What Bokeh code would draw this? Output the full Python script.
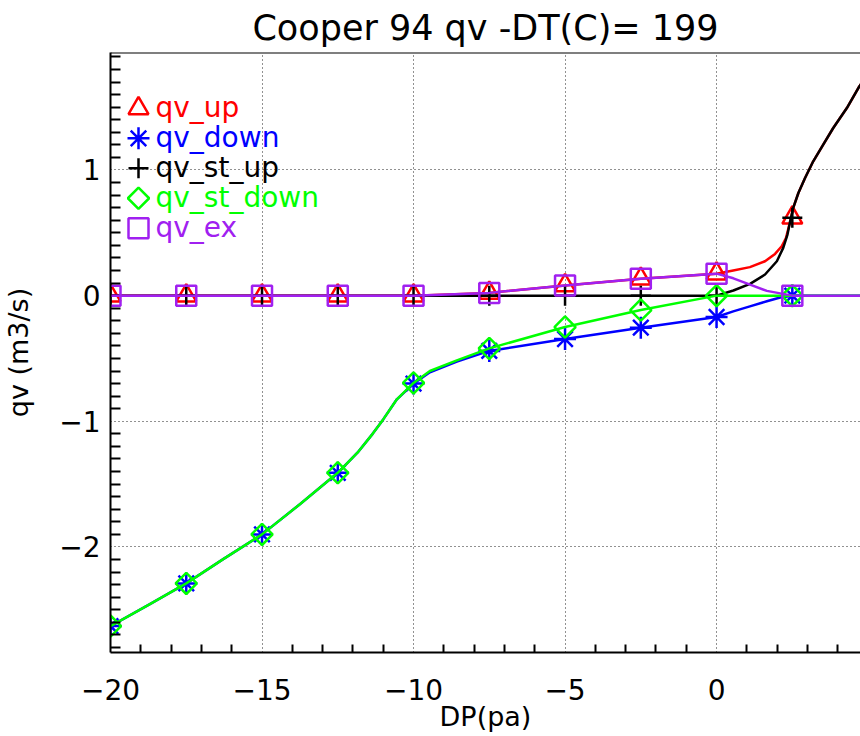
import numpy as np
from bokeh.plotting import figure
from bokeh.models import FixedTicker, Span, ColumnDataSource
from bokeh.core.properties import value
from bokeh.embed import file_html
from bokeh.resources import INLINE

# ---- sampled flow rates at the marker pressures ----
dp = [-20, -17.5, -15, -12.5, -10, -7.5, -5, -2.5, 0, 2.5]
qv_up = [0, 0, 0, 0, 0, 0.022, 0.081, 0.134, 0.175, 0.62]
qv_down = [-2.63, -2.29, -1.90, -1.41, -0.70, -0.44, -0.345, -0.255, -0.17, 0.0]
qv_st_up = [0, 0, 0, 0, 0, 0, 0, 0, 0, 0.62]
qv_st_down = [-2.63, -2.29, -1.90, -1.41, -0.695, -0.42, -0.25, -0.115, 0.0, 0.0]
qv_ex = [0, 0, 0, 0, 0, 0.022, 0.081, 0.134, 0.175, 0.0]

# ---- continuous curves (finer pressure steps) ----
curve_up_dp = [-20, -17.5, -15, -12.5, -10, -7.5, -5, -2.5, 0, 0.55, 1.1, 1.6, 1.93, 2.15, 2.29,
               2.43, 2.53, 2.7, 2.92, 3.19, 3.52, 3.85, 4.3, 4.71, 5.0]
curve_up_qv = [0, 0, 0, 0, 0, 0.022, 0.081, 0.134, 0.175, 0.200, 0.227, 0.274, 0.332, 0.393, 0.459,
               0.592, 0.698, 0.817, 0.936, 1.069, 1.202, 1.334, 1.493, 1.665, 1.76]

curve_down_dp = [-20, -18.7, -17.5, -16.28, -15, -13.75, -12.5, -11.85, -11.35, -11.0, -10.55, -10,
                 -9.46, -8.57, -7.5, -5, -2.5, 0, 0.55, 1.1, 1.66, 2.1, 2.5, 5.0]
curve_down_qv = [-2.63, -2.455, -2.29, -2.097, -1.90, -1.66, -1.41, -1.25, -1.10, -0.985, -0.825, -0.70,
                 -0.61, -0.525, -0.44, -0.345, -0.255, -0.17, -0.125, -0.085, -0.045, -0.015, 0.0, 0.0]

curve_st_up_dp = [-20, -17.5, -15, -12.5, -10, -7.5, -5, -2.5, 0, 0.555, 1.105, 1.6, 1.99, 2.2, 2.34,
                  2.43, 2.53, 2.7, 2.92, 3.19, 3.52, 3.85, 4.3, 4.71, 5.0]
curve_st_up_qv = [0, 0, 0, 0, 0, 0, 0, 0, 0, 0.041, 0.094, 0.168, 0.274, 0.380, 0.486,
                  0.592, 0.698, 0.817, 0.936, 1.069, 1.202, 1.334, 1.493, 1.665, 1.76]

curve_st_down_dp = [-20, -18.7, -17.5, -16.28, -15, -13.75, -12.5, -11.85, -11.35, -11.0, -10.55, -10,
                    -9.46, -8.57, -7.5, -5, -2.5, 0, 2.5, 5.0]
curve_st_down_qv = [-2.63, -2.455, -2.29, -2.097, -1.90, -1.66, -1.41, -1.25, -1.10, -0.985, -0.825, -0.695,
                    -0.60, -0.515, -0.42, -0.25, -0.115, 0.0, 0.0, 0.0]

curve_ex_dp = [-20, -17.5, -15, -12.5, -10, -7.5, -5, -2.5, 0, 0.555, 1.105, 1.66, 2.5, 5.0]
curve_ex_qv = [0, 0, 0, 0, 0, 0.022, 0.081, 0.134, 0.175, 0.138, 0.088, 0.038, 0.0, 0.0]

names = ["qv_up", "qv_down", "qv_st_up", "qv_st_down", "qv_ex"]
colors = ["#FF0000", "#0000FF", "#000000", "#00FF00", "#A020F0"]

x_major = [-20, -15, -10, -5, 0]
x_labels = ["\u221220", "\u221215", "\u221210", "\u22125", "0"]
y_major = [-2, -1, 0, 1]
y_labels = ["\u22122", "\u22121", "0", "1"]

TITLE = "Cooper 94 qv -DT(C)= 199"
FONT = "DejaVu Sans"
W, H = 860, 736
BL, BR, BT, BB = 110, 0, 51, 84
X0, X1 = -20.0, 4.75
Y0, Y1 = -2.84, 1.935
LW = 2.5

p = figure(width=W, height=H, x_range=(X0, X1), y_range=(Y0, Y1),
           output_backend="svg", toolbar_location=None,
           min_border_left=BL, min_border_right=BR, min_border_top=BT, min_border_bottom=BB,
           title=TITLE)
p.outline_line_color = None
p.background_fill_color = "white"
p.border_fill_color = "white"

p.title.align = "center"
p.title.text_font = FONT
p.title.text_font_size = "35px"
p.title.text_font_style = "normal"
p.title.text_color = "black"
p.title.standoff = 10

fw, fh = W - BL - BR, H - BT - BB
ux, uy = (X1 - X0) / fw, (Y1 - Y0) / fh

# axes: dotted grid at the major values, short inward minor ticks
x_minor = [v for v in range(-20, 5) if v not in x_major]
y_minor = [round(v, 1) for v in np.arange(-2.8, 1.95, 0.1) if abs(v - round(v)) > 1e-6]
p.xaxis.ticker = FixedTicker(ticks=x_major, minor_ticks=x_minor)
p.yaxis.ticker = FixedTicker(ticks=y_major, minor_ticks=y_minor)
p.xaxis.major_label_overrides = dict(zip(x_major, x_labels))
p.yaxis.major_label_overrides = dict(zip(y_major, y_labels))

for ax, tick_in in ((p.xaxis, 8), (p.yaxis, 10)):
    ax.axis_line_width = 2
    ax.axis_line_color = "black"
    ax.major_tick_in = 0
    ax.major_tick_out = 0
    ax.minor_tick_in = tick_in
    ax.minor_tick_out = 0
    ax.minor_tick_line_width = 2
    ax.minor_tick_line_color = "black"
    ax.major_label_text_font = FONT
    ax.major_label_text_font_size = "28px"
    ax.major_label_text_color = "black"
    ax.axis_label_text_font = FONT
    ax.axis_label_text_font_size = "27px"
    ax.axis_label_text_font_style = "normal"
    ax.axis_label_text_color = "black"

p.xaxis.axis_label = "DP(pa)"
p.yaxis.axis_label = "qv (m3/s)"
p.xaxis.major_label_standoff = 26
p.xaxis.axis_label_standoff = -2
p.yaxis.major_label_standoff = 10
p.yaxis.axis_label_standoff = 22

for g in (p.xgrid, p.ygrid):
    g.grid_line_color = "#222222"
    g.grid_line_dash = "1 3"
    g.grid_line_width = 1

p.add_layout(Span(location=Y1, dimension="width", line_color="black", line_width=2))

# series
curves = [
    (curve_up_dp, curve_up_qv, qv_up, dict(marker="triangle", size=20)),
    (curve_down_dp, curve_down_qv, qv_down, dict(marker="asterisk", size=22)),
    (curve_st_up_dp, curve_st_up_qv, qv_st_up, dict(marker="cross", size=20)),
    (curve_st_down_dp, curve_st_down_qv, qv_st_down, dict(marker="square", size=15, angle=np.pi / 4)),
    (curve_ex_dp, curve_ex_qv, qv_ex, dict(marker="square", size=20)),
]
for (cx, cy, pts, mk), col in zip(curves, colors):
    p.line(cx, cy, line_color=col, line_width=LW, line_join="round")
    p.scatter(dp, pts, line_color=col, fill_color=None, line_width=LW, **mk)

# in-plot key, positioned in pixels from the frame's top-left corner
rows = np.arange(len(names))
sym_px = 56 + 30 * rows
key = ColumnDataSource(dict(
    sx=[X0 + 28 * ux] * len(names),
    tx=[X0 + 45 * ux] * len(names),
    sy=list(Y1 - sym_px * uy),
    ty=list(Y1 - (sym_px - 1) * uy),
    text=names,
    color=colors,
    marker=["triangle", "asterisk", "cross", "square", "square"],
    size=[20, 22, 20, 15, 20],
    angle=[0, 0, 0, np.pi / 4, 0],
))
p.scatter("sx", "sy", source=key, marker="marker", size="size", angle="angle",
          line_color="color", fill_color=None, line_width=LW)
p.text("tx", "ty", text="text", source=key, text_color="color", text_font=value(FONT),
       text_font_size="28px", text_baseline="middle", text_align="left")

open("out.html", "w").write(file_html(p, INLINE))
